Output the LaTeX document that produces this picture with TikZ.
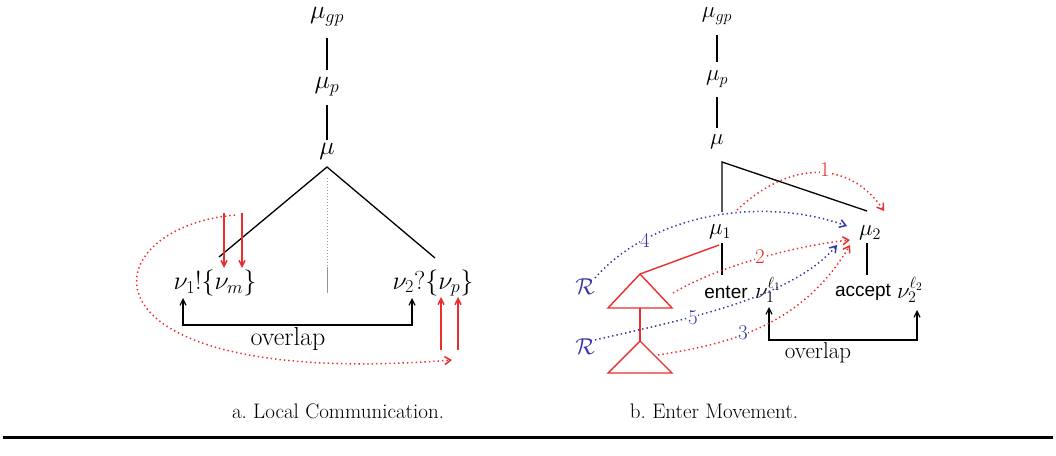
\RequirePackage{fix-cm}
\documentclass[tikz,border=0pt]{standalone}
\usepackage{fontspec}
\newfontfamily\helv{Liberation Sans}
\usetikzlibrary{arrows.meta}
\definecolor{myred}{RGB}{235,45,45}
\definecolor{myblue}{RGB}{55,55,170}
\definecolor{mygray}{RGB}{150,150,150}
\begin{document}
\begin{tikzpicture}[x=1pt,y=-1pt,
  lbl/.style={inner sep=1pt, font=\fontsize{26}{30}\selectfont},
  lblr/.style={inner sep=1pt, font=\fontsize{23}{27}\selectfont},
  sf/.style={inner sep=1pt, font=\fontsize{19}{22}\selectfont\helv},
  num/.style={inner sep=0.5pt, fill=white, font=\fontsize{21}{24}\selectfont},
  captext/.style={inner sep=1pt, font=\fontsize{21}{25}\selectfont},
  tree/.style={line width=1.3pt},
  redtree/.style={line width=1.4pt, myred},
  redarrow/.style={line width=1.5pt, myred, -{Straight Barb[length=6pt,width=6pt]}},
  dotarrow/.style={line width=1.5pt, dash pattern=on 1.4pt off 3pt, -{Straight Barb[length=6pt,width=8pt]}},
  ovl/.style={line width=1.2pt, {Straight Barb[length=6pt,width=6pt]}-{Straight Barb[length=6pt,width=6pt]}}
]
\useasboundingbox (0,0) rectangle (1056,455);

% ---------- left panel ----------
\node[lbl] (gpL) at (327,17) {$\mu_{gp}$};
\node[lbl] (pL) at (327,87) {$\mu_p$};
\node[lbl] (mL) at (327,151) {$\mu$};
\coordinate (aL) at (327,167);
\coordinate (lL) at (219,257);
\coordinate (rL) at (435,258);
\draw[tree] (327,38) -- (327,70);
\draw[tree] (327,105) -- (327,140);
\draw[tree] (lL) -- (aL) -- (rL);
\coordinate (dT) at (327,178);
\coordinate (dM) at (327,267);
\coordinate (dB) at (327,293);
\draw[mygray, line width=1pt, dash pattern=on 1pt off 2pt] (dT) -- (dM);
\draw[mygray, line width=1pt] (dM) -- (dB);
\node[lbl] (n1) at (215,283) {$\nu_1!\{\nu_m\}$};
\node[lbl] (n2) at (433,283) {$\nu_2?\{\nu_p\}$};
\coordinate (ra1) at (224,213); \coordinate (ra1e) at (224,268);
\coordinate (ra2) at (242,213); \coordinate (ra2e) at (242,268);
\draw[redarrow] (ra1) -- (ra1e);
\draw[redarrow] (ra2) -- (ra2e);
\coordinate (ru1) at (441,350); \coordinate (ru1e) at (441,297);
\coordinate (ru2) at (458,350); \coordinate (ru2e) at (458,297);
\draw[redarrow] (ru1) -- (ru1e);
\draw[redarrow] (ru2) -- (ru2e);
\coordinate (ovL1) at (183,298); \coordinate (ovL2) at (412,298);
\draw[ovl] (ovL1) -- (183,325) -- (412,325) -- (ovL2);
\node[lbl] (ovlL) at (288,339) {overlap};
\coordinate (cs) at (235,215); \coordinate (ce) at (452,360);
\draw[dotarrow, myred] (cs) .. controls (88,228) and (66,390) .. (ce);

% ---------- right panel ----------
\node[lblr] (gpR) at (717,16) {$\mu_{gp}$};
\node[lblr] (pR) at (717,79) {$\mu_p$};
\node[lblr] (mR) at (717,142) {$\mu$};
\draw[tree] (717,35) -- (717,62);
\draw[tree] (717,97) -- (717,128);
\coordinate (aR) at (722,162);
\coordinate (aRb) at (722,212);
\coordinate (aRr) at (867,211);
\draw[tree] (aRb) -- (aR) -- (aRr);
\node[lblr] (m1) at (720,232) {$\mu_1$};
\node[lblr] (m2) at (870,233) {$\mu_2$};
\draw[tree] (722,243) -- (722,275);
\draw[tree] (867,243) -- (867,275);
\node[sf] (enter) at (726,292) {enter};
\node[lblr] (v1) at (768,290) {$\nu_1^{\ell_1}$};
\node[sf] (accept) at (863,292) {accept};
\node[lblr] (v2) at (910,290) {$\nu_2^{\ell_2}$};
\coordinate (ovR1) at (769,307); \coordinate (ovR2) at (917,310);
\draw[ovl] (ovR1) -- (769,340) -- (917,340) -- (ovR2);
\node[lblr] (ovlR) at (818,353) {overlap};

% red tree
\coordinate (t1a) at (640,274); \coordinate (t1l) at (608,308); \coordinate (t1r) at (672,308);
\coordinate (t1b) at (640,308);
\coordinate (t2a) at (640,341); \coordinate (t2l) at (608,373); \coordinate (t2r) at (672,373);
\coordinate (m1r) at (719,245);
\draw[redtree] (m1r) -- (t1a);
\draw[redtree] (t1a) -- (t1l) -- (t1r) -- cycle;
\draw[redtree] (t1b) -- (t2a);
\draw[redtree] (t2a) -- (t2l) -- (t2r) -- cycle;

\node[lblr, text=myblue] (R1) at (585,287) {$\mathcal{R}$};
\node[lblr, text=myblue] (R2) at (585,347) {$\mathcal{R}$};

% movement arrows
\coordinate (s4) at (595,278); \coordinate (e4) at (847,226);
\draw[dotarrow, myblue] (s4) .. controls (650,215) and (760,195) .. (e4);
\coordinate (s1) at (737,210); \coordinate (e1) at (884,211);
\draw[dotarrow, myred] (s1) .. controls (790,160) and (850,160) .. (e1);
\coordinate (s2) at (673,293); \coordinate (e2) at (850,240);
\draw[dotarrow, myred] (s2) .. controls (720,265) and (800,245) .. (e2);
\coordinate (s5) at (595,340); \coordinate (e5) at (837,245);
\draw[dotarrow, myblue] (s5) .. controls (680,320) and (790,300) .. (e5);
\coordinate (s3) at (658,355); \coordinate (e3) at (850,245);
\draw[dotarrow, myred] (s3) .. controls (720,345) and (800,330) .. (e3);

\node[num, text=myblue] (l4) at (645,240) {4};
\node[num, text=myred] (l1) at (825,170) {1};
\node[num, text=myred] (l2) at (760,257) {2};
\node[num, text=myblue] (l5) at (693,318) {5};
\node[num, text=myblue] (l3) at (743,333) {3};

% captions
\node[captext] (capa) at (338,411) {a.\ Local Communication.};
\node[captext] (capb) at (714,411) {b.\ Enter Movement.};
\coordinate (ruleL) at (3,437); \coordinate (ruleR) at (1053,437);
\draw[line width=3pt] (ruleL) -- (ruleR);
\end{tikzpicture}
\end{document}
